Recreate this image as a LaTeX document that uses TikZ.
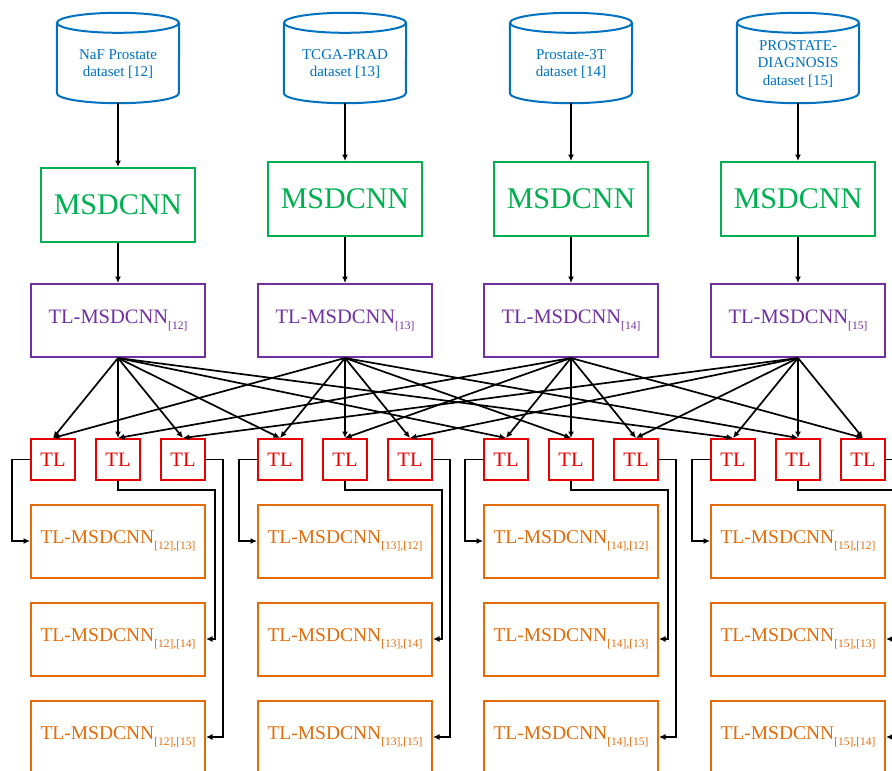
\documentclass[tikz,border=0pt]{standalone}
\usepackage{fontspec}
\setmainfont{Liberation Serif}
\usetikzlibrary{arrows.meta,calc}

\definecolor{dbblue}{HTML}{0070C0}
\definecolor{netgreen}{HTML}{00B050}
\definecolor{tlpurple}{HTML}{7030A0}
\definecolor{tlred}{RGB}{230,0,0}
\definecolor{resorange}{HTML}{E36C09}

% lowered small reference tag after a model name
\newcommand\refsub[1]{\raisebox{-0.3em}{\fontsize{11.5}{12}\selectfont#1}}

\begin{document}
\begin{tikzpicture}[x=1pt,y=-1pt,
  db/.style={minimum width=122pt,minimum height=78pt,inner sep=0pt,
    text=dbblue,font=\fontsize{15}{17.5}\selectfont,align=center},
  cylline/.style={draw=dbblue,line width=2pt},
  netbox/.style={draw=netgreen,line width=2pt,minimum width=154pt,
    minimum height=74pt,text=netgreen,font=\fontsize{30}{32}\selectfont},
  tlnet/.style={draw=tlpurple,line width=2pt,minimum width=174pt,
    minimum height=73pt,text=tlpurple,font=\fontsize{20.5}{22}\selectfont},
  tlbox/.style={draw=tlred,line width=2pt,minimum width=44pt,
    minimum height=41pt,inner sep=0pt,text=tlred,font=\fontsize{20.5}{22}\selectfont},
  result/.style={draw=resorange,line width=2pt,minimum width=174pt,
    minimum height=73pt,text=resorange,font=\fontsize{19.5}{22}\selectfont},
  link/.style={black,line width=1.7pt,-{Latex[length=6.5pt,width=6pt]}}]

\useasboundingbox (0,0) rectangle (892,771);
\clip (0,0) rectangle (892,771);

% datasets: the node spans the cylinder body below the top rim
\node[db] (d1) at (118,64) {NaF Prostate\\dataset [12]};
\node[db] (d2) at (345,64) {TCGA-PRAD\\dataset [13]};
\node[db] (d3) at (571,64) {Prostate-3T\\dataset [14]};
\node[db] (d4) at (798,64) {PROSTATE-\\DIAGNOSIS\\dataset [15]};
\foreach \k in {1,...,4}{
  \draw[cylline] ($(d\k.north west)+(0,-2)$) -- ($(d\k.south west)+(0,-10)$)
    arc[start angle=180,end angle=360,x radius=61pt,y radius=10pt]
    -- ($(d\k.north east)+(0,-2)$);
  \draw[cylline] ($(d\k.north)+(0,-2)$) ellipse[x radius=61pt,y radius=10pt];
}

% base networks and their transfer-learning versions
\foreach \k/\cx/\my/\lab in {1/118/205/12,2/345/199/13,3/571/199/14,4/798/199/15}{
  \node[netbox] (m\k) at (\cx,\my) {MSDCNN};
  \node[tlnet] (t\k) at (\cx,320.5) {TL-MSDCNN\refsub{[\lab]}};
  \draw[link] (d\k.south) -- (m\k.north);
  \draw[link] (m\k.south) -- (t\k.north);
}

% transfer steps and fine-tuned models
\foreach \k/\cx/\lab/\oa/\ob/\oc/\la/\lb/\lc in
  {1/118/12/2/3/4/13/14/15, 2/345/13/1/3/4/12/14/15,
   3/571/14/1/2/4/12/13/15, 4/798/15/1/2/3/12/13/14}{
  \node[tlbox] (tl\k-1) at (\cx-65,459.5) {TL};
  \node[tlbox] (tl\k-2) at (\cx,459.5) {TL};
  \node[tlbox] (tl\k-3) at (\cx+65,459.5) {TL};
  \node[result] (r\k-1) at (\cx,541) {TL-MSDCNN\refsub{[\lab],[\la]}};
  \node[result] (r\k-2) at (\cx,639) {TL-MSDCNN\refsub{[\lab],[\lb]}};
  \node[result] (r\k-3) at (\cx,737) {TL-MSDCNN\refsub{[\lab],[\lc]}};
  % each step takes the own model and one other model
  \draw[link] (t\k.south) -- (tl\k-1.north);
  \draw[link] (t\k.south) -- (tl\k-2.north);
  \draw[link] (t\k.south) -- (tl\k-3.north);
  \draw[link] (t\oa.south) -- (tl\k-1.north);
  \draw[link] (t\ob.south) -- (tl\k-2.north);
  \draw[link] (t\oc.south) -- (tl\k-3.north);
  % routes down to the fine-tuned models
  \draw[link] (tl\k-1.west) -- ++(-18,0) |- (r\k-1.west);
  \draw[link] (tl\k-2.south) -- ++(0,9) -| ([xshift=9pt]r\k-2.east) -- (r\k-2.east);
  \draw[link] (tl\k-3.east) -- ++(17,0) |- (r\k-3.east);
}
\end{tikzpicture}
\end{document}
